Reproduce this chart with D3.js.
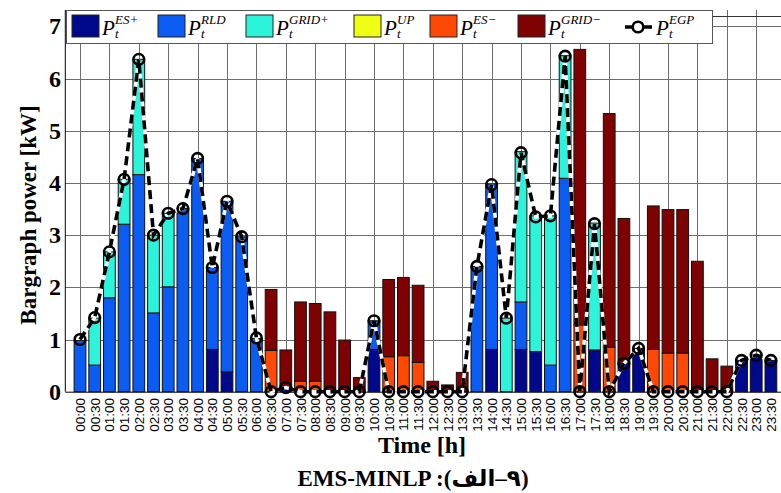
<!DOCTYPE html>
<html>
<head>
<meta charset="utf-8">
<script src="https://cdn.jsdelivr.net/npm/d3@7"></script>
<style>
  body { margin: 0; background: #fff; }
  svg { display: block; }
</style>
</head>
<body>
<script>
var width = 781,
  height = 493;

// time slots (half hours)
var times = [
  "00:00", "00:30", "01:00", "01:30", "02:00", "02:30", "03:00", "03:30",
  "04:00", "04:30", "05:00", "05:30", "06:00", "06:30", "07:00", "07:30",
  "08:00", "08:30", "09:00", "09:30", "10:00", "10:30", "11:00", "11:30",
  "12:00", "12:30", "13:00", "13:30", "14:00", "14:30", "15:00", "15:30",
  "16:00", "16:30", "17:00", "17:30", "18:00", "18:30", "19:00", "19:30",
  "20:00", "20:30", "21:00", "21:30", "22:00", "22:30", "23:00", "23:30"
];

// stacked series [kW]
var esPlus = [
  0, 0, 0, 0, 0, 0, 0, 0, 0, 0.81, 0.38, 0, 0, 0, 0.08, 0,
  0, 0, 0, 0, 0.81, 0, 0, 0, 0, 0, 0, 0, 0.81, 0, 0.81, 0.77,
  0, 0, 0, 0.8, 0, 0.54, 0.83, 0, 0, 0, 0, 0, 0, 0.6, 0.7, 0.6
];
var rld = [
  0.98, 0.51, 1.8, 3.21, 4.16, 1.51, 2.01, 3.51, 4.47, 1.57, 3.27, 2.97, 1.02, 0, 0, 0,
  0, 0, 0, 0, 0.55, 0, 0, 0, 0, 0, 0, 2.4, 3.17, 0, 0.91, 0,
  0.51, 4.09, 0, 0, 0, 0, 0, 0, 0, 0, 0, 0, 0, 0, 0, 0
];
var gridPlus = [
  0, 0.9, 0.88, 0.86, 2.21, 1.49, 1.41, 0, 0, 0, 0, 0, 0, 0, 0, 0,
  0, 0, 0, 0, 0, 0, 0, 0, 0, 0, 0, 0, 0, 1.41, 2.88, 2.6,
  2.86, 2.35, 0, 2.43, 0, 0, 0, 0, 0, 0, 0, 0, 0, 0, 0, 0
];
var up = [
  0, 0, 0, 0, 0, 0, 0, 0, 0, 0, 0, 0, 0, 0, 0, 0,
  0, 0, 0, 0, 0, 0, 0, 0, 0, 0, 0, 0, 0, 0, 0, 0,
  0, 0, 0, 0, 0, 0, 0, 0, 0, 0, 0, 0, 0, 0, 0, 0
];
var esMinus = [
  0, 0, 0, 0, 0, 0, 0, 0, 0, 0, 0, 0, 0, 0.79, 0, 0.2,
  0.2, 0, 0, 0, 0, 0.67, 0.69, 0.56, 0, 0, 0, 0, 0, 0, 0, 0,
  0, 0, 1.28, 0, 0.85, 0, 0, 0.81, 0.74, 0.74, 0, 0, 0, 0, 0, 0
];
var gridMinus = [
  0, 0, 0, 0, 0, 0, 0, 0, 0, 0, 0, 0, 0, 1.17, 0.72, 1.52,
  1.49, 1.53, 0.99, 0.27, 0, 1.48, 1.5, 1.48, 0.2, 0.13, 0.37, 0, 0, 0, 0, 0,
  0, 0, 5.28, 0, 4.48, 2.78, 0, 2.75, 2.75, 2.75, 2.5, 0.63, 0.49, 0, 0, 0
];
// line series
var egp = [
  1.0, 1.42, 2.68, 4.07, 6.37, 3.0, 3.42, 3.51, 4.47, 2.38, 3.65, 2.97, 1.03, 0, 0.08, 0,
  0, 0, 0, 0, 1.36, 0, 0, 0, 0, 0, 0, 2.4, 3.97, 1.41, 4.58, 3.35,
  3.37, 6.43, 0, 3.22, 0, 0.54, 0.83, 0, 0, 0, 0, 0, 0, 0.6, 0.7, 0.6
];

var yTicks = [0, 1, 2, 3, 4, 5, 6, 7];

var keys = ["esPlus", "rld", "gridPlus", "up", "esMinus", "gridMinus"];
var supText = ["ES+", "RLD", "GRID+", "UP", "ES\u2212", "GRID\u2212"];
var colors = ["#00088c", "#0a5cf2", "#2cf4da", "#eeff14", "#ff4806", "#7e0202"];

var table = times.map(function(t, i) {
  return {
    t: t, i: i,
    esPlus: esPlus[i], rld: rld[i], gridPlus: gridPlus[i],
    up: up[i], esMinus: esMinus[i], gridMinus: gridMinus[i]
  };
});

var x = d3.scaleLinear().domain([0, 49]).range([65.3, 785.6]);
var y = d3.scaleLinear().domain([0, 7.2]).range([391.7, 16]);
var barW = x(0.8) - x(0);

var svg = d3
  .select("body")
  .append("svg")
  .attr("width", width)
  .attr("height", height);

// grid
var grid = svg.append("g").attr("stroke", "#6e6e6e").attr("stroke-width", 1);
grid.selectAll("line.gy")
  .data(yTicks.slice(1))
  .enter()
  .append("line")
  .attr("x1", x(0)).attr("x2", x(49))
  .attr("y1", function(d) { return Math.round(y(d)) + 0.5; })
  .attr("y2", function(d) { return Math.round(y(d)) + 0.5; });
grid.selectAll("line.gx")
  .data(d3.range(1, 49, 2))
  .enter()
  .append("line")
  .attr("x1", function(d) { return Math.round(x(d)) + 0.5; })
  .attr("x2", function(d) { return Math.round(x(d)) + 0.5; })
  .attr("y1", 10).attr("y2", y(0));

// stacked bars
var stack = d3.stack().keys(keys)(table);
svg.append("g")
  .selectAll("g")
  .data(stack)
  .enter()
  .append("g")
  .attr("fill", function(d, k) { return colors[k]; })
  .selectAll("rect")
  .data(function(d) { return d.filter(function(s) { return s[1] - s[0] > 0; }); })
  .enter()
  .append("rect")
  .attr("x", function(d) { return x(d.data.i + 1) - barW / 2; })
  .attr("width", barW)
  .attr("y", function(d) { return y(d[1]); })
  .attr("height", function(d) { return y(d[0]) - y(d[1]); })
  .attr("stroke", "#111")
  .attr("stroke-width", 1);

// frame
svg.append("line")
  .attr("x1", x(0)).attr("x2", x(49))
  .attr("y1", y(0) + 0.5).attr("y2", y(0) + 0.5)
  .attr("stroke", "#000");
svg.append("line")
  .attr("x1", x(0)).attr("x2", x(0))
  .attr("y1", 10).attr("y2", y(0))
  .attr("stroke", "#000");
svg.append("line")
  .attr("x1", x(0)).attr("x2", x(49))
  .attr("y1", 16.5).attr("y2", 16.5)
  .attr("stroke", "#333");

// EGP line
var line = d3.line()
  .x(function(d, i) { return x(i + 1); })
  .y(function(d) { return y(d); });
svg.append("path")
  .datum(egp)
  .attr("d", line)
  .attr("fill", "none")
  .attr("stroke", "#fff")
  .attr("stroke-width", 3.5);
svg.append("path")
  .datum(egp)
  .attr("d", line)
  .attr("fill", "none")
  .attr("stroke", "#000")
  .attr("stroke-width", 3.6)
  .attr("stroke-dasharray", "9,5");
svg.append("g")
  .selectAll("circle")
  .data(egp)
  .enter()
  .append("circle")
  .attr("cx", function(d, i) { return x(i + 1); })
  .attr("cy", function(d) { return y(d); })
  .attr("r", 5.3)
  .attr("fill", "none")
  .attr("stroke", "#000")
  .attr("stroke-width", 2.6);

// y tick labels
svg.append("g")
  .selectAll("text")
  .data(yTicks)
  .enter()
  .append("text")
  .attr("x", 61)
  .attr("y", function(d) { return y(d) + 8; })
  .attr("text-anchor", "end")
  .attr("font-family", "Liberation Serif, serif")
  .attr("font-weight", "bold")
  .attr("font-size", 24)
  .text(function(d) { return d; });

// x tick labels
svg.append("g")
  .selectAll("text")
  .data(times)
  .enter()
  .append("text")
  .attr("transform", function(d, i) {
    return "translate(" + (x(i + 1) + 5) + "," + 398 + ") rotate(-90)";
  })
  .attr("text-anchor", "end")
  .attr("font-family", "Liberation Sans, Arial, sans-serif")
  .attr("font-size", 13.5)
  .text(function(d) { return d; });

// axis titles
svg.append("text")
  .attr("transform", "translate(36,215) rotate(-90)")
  .attr("text-anchor", "middle")
  .attr("font-family", "Liberation Serif, serif")
  .attr("font-weight", "bold")
  .attr("font-size", 23)
  .text("Bargraph power [kW]");
svg.append("text")
  .attr("x", 422)
  .attr("y", 453)
  .attr("text-anchor", "middle")
  .attr("font-family", "Liberation Serif, serif")
  .attr("font-weight", "bold")
  .attr("font-size", 24)
  .text("Time [h]");

// caption, laid out piece by piece (left to right as printed)
var capParts = ["EMS-MINLP :(", "\u0627\u0644\u0641", "\u2013", "\u06F9", ")"];
var cap = svg.append("g")
  .attr("font-family", "Liberation Serif, DejaVu Sans, serif")
  .attr("font-weight", "bold")
  .attr("font-size", 23);
var cx = 0;
var capNodes = capParts.map(function(s) {
  var t = cap.append("text").attr("y", 486).attr("x", cx).text(s);
  cx += t.node().getComputedTextLength();
  return t;
});
var capStart = 413 - cx / 2;
cap.attr("transform", "translate(" + capStart + ",0)");

// legend
var leg = svg.append("g");
leg.append("rect")
  .attr("x", 66.5).attr("y", 10.5)
  .attr("width", 646).attr("height", 33)
  .attr("fill", "#fff")
  .attr("stroke", "#555");

var legX = [72, 158, 246, 354, 430, 518];
function pLabel(px, sup) {
  var g = leg.append("g").attr("font-family", "Liberation Serif, serif").attr("font-style", "italic");
  g.append("text").attr("x", px).attr("y", 35).attr("font-size", 21).text("P");
  g.append("text").attr("x", px + 13).attr("y", 38).attr("font-size", 13).text("t");
  g.append("text").attr("x", px + 13).attr("y", 24).attr("font-size", 13).text(sup);
}
keys.forEach(function(k, j) {
  leg.append("rect")
    .attr("x", legX[j]).attr("y", 15)
    .attr("width", 27).attr("height", 22)
    .attr("fill", colors[j])
    .attr("stroke", "#222");
  pLabel(legX[j] + 30, supText[j]);
});
leg.append("line")
  .attr("x1", 625).attr("x2", 652)
  .attr("y1", 27).attr("y2", 27)
  .attr("stroke", "#000").attr("stroke-width", 3.5);
leg.append("circle")
  .attr("cx", 638).attr("cy", 27).attr("r", 5.3)
  .attr("fill", "#fff").attr("stroke", "#000").attr("stroke-width", 2.6);
pLabel(656, "EGP");
</script>
</body>
</html>
